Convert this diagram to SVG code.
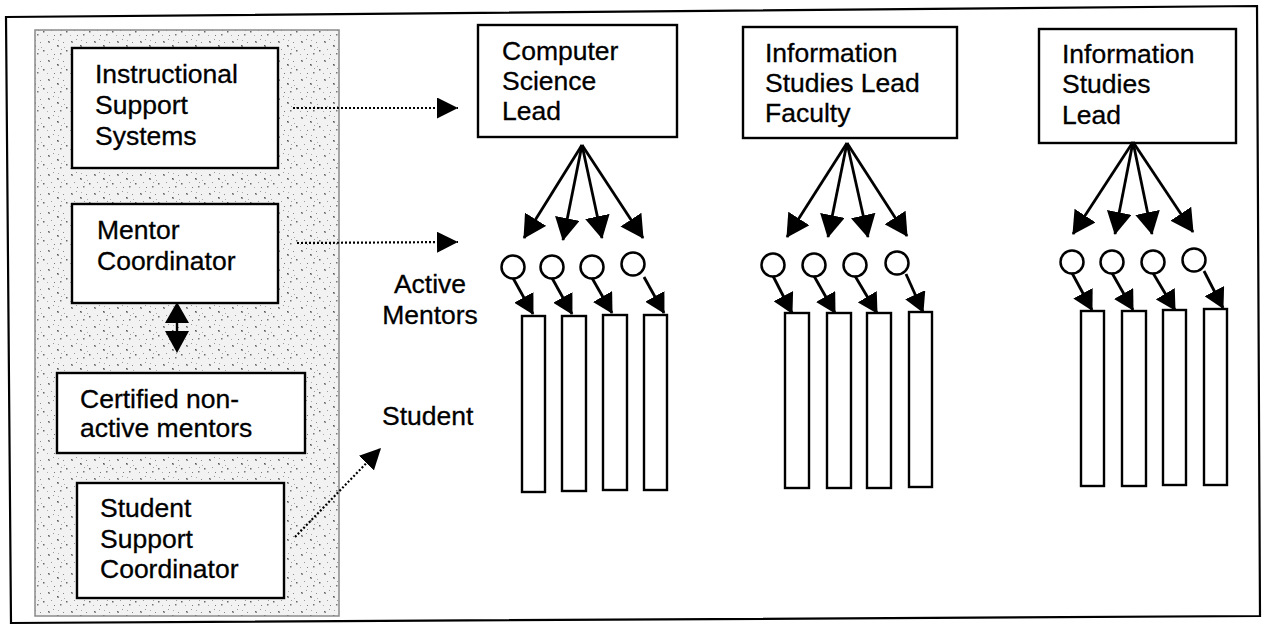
<svg xmlns="http://www.w3.org/2000/svg" width="1266" height="625" viewBox="0 0 1266 625">
<style>
.box{fill:#fff;stroke:#000;stroke-width:2.4}
.bar{fill:#fff;stroke:#000;stroke-width:2.4}
.t{font-family:"Liberation Sans",Arial,sans-serif;font-size:26.5px;fill:#000;stroke:#000;stroke-width:0.3}
.fan{stroke:#000;stroke-width:2.8;fill:none;marker-end:url(#ah)}
.sm{stroke:#000;stroke-width:2.8;fill:none;marker-end:url(#ahs)}
.dot{stroke:#000;stroke-width:2.2;stroke-dasharray:2 2;fill:none;marker-end:url(#ahd)}
.mentor{fill:#fff;stroke:#000;stroke-width:2.5}
</style>
<defs>
<marker id="ah" markerUnits="userSpaceOnUse" markerWidth="24" markerHeight="25" refX="22" refY="12.5" orient="auto" viewBox="0 0 24 25">
<path d="M0,0 L23,12.5 L0,25 z" fill="#000"/>
</marker>
<marker id="ahs" markerUnits="userSpaceOnUse" markerWidth="21" markerHeight="22" refX="19" refY="11" orient="auto" viewBox="0 0 21 22">
<path d="M0,0 L20,11 L0,22 z" fill="#000"/>
</marker>
<marker id="ahd" markerUnits="userSpaceOnUse" markerWidth="22" markerHeight="21" refX="21" refY="10.5" orient="auto" viewBox="0 0 22 21">
<path d="M0,0 L21,10.5 L0,21 z" fill="#000"/>
</marker>
<pattern id="stip" width="23" height="19" patternUnits="userSpaceOnUse">
<rect width="23" height="19" fill="#f2f2f2"/>
<rect x="2" y="3" width="1.5" height="1.5" fill="#666"/>
<rect x="3" y="4" width="1" height="1" fill="#888"/>
<rect x="7" y="1" width="1" height="1" fill="#999"/>
<rect x="11" y="7" width="1.5" height="1.5" fill="#555"/>
<rect x="12" y="8" width="1" height="1" fill="#888"/>
<rect x="17" y="4" width="1" height="1" fill="#888"/>
<rect x="20" y="12" width="1.5" height="1.5" fill="#666"/>
<rect x="5" y="11" width="1" height="1" fill="#999"/>
<rect x="14" y="15" width="1.5" height="1.5" fill="#777"/>
<rect x="8" y="16" width="1" height="1" fill="#777"/>
<rect x="1" y="16" width="1" height="1" fill="#aaa"/>
<rect x="18" y="9" width="1" height="1" fill="#aaa"/>
<rect x="12" y="2" width="1" height="1" fill="#aaa"/>
<rect x="15" y="11" width="1" height="1" fill="#999"/>
</pattern>
</defs>

<g id="frame">
<polygon points="6,17 1257,6 1260,616 11,623" fill="#fff" stroke="#000" stroke-width="2.2"/>
</g>

<g id="panel">
<rect x="35" y="30" width="304" height="586" fill="url(#stip)" stroke="#8a8a8a" stroke-width="1.5"/>
</g>

<g id="instructional-support">
<rect class="box" x="72" y="48" width="206" height="120"/>
<text class="t" x="95" y="83">Instructional</text>
<text class="t" x="95" y="114">Support</text>
<text class="t" x="95" y="145">Systems</text>
</g>

<g id="mentor-coordinator">
<rect class="box" x="72" y="204" width="206" height="99"/>
<text class="t" x="97" y="239">Mentor</text>
<text class="t" x="97" y="270">Coordinator</text>
</g>

<g id="certified-nonactive">
<rect class="box" x="57" y="373" width="248" height="80"/>
<text class="t" x="80" y="408">Certified non-</text>
<text class="t" x="80" y="437">active mentors</text>
</g>

<g id="student-support">
<rect class="box" x="77" y="483" width="207" height="115"/>
<text class="t" x="100" y="517">Student</text>
<text class="t" x="100" y="548">Support</text>
<text class="t" x="100" y="578">Coordinator</text>
</g>

<g id="cs-lead">
<rect class="box" x="478" y="25" width="199" height="112"/>
<text class="t" x="502" y="60">Computer</text>
<text class="t" x="502" y="90">Science</text>
<text class="t" x="502" y="120">Lead</text>
</g>

<g id="is-lead-faculty">
<rect class="box" x="743" y="27" width="214" height="111"/>
<text class="t" x="765" y="62">Information</text>
<text class="t" x="765" y="92">Studies Lead</text>
<text class="t" x="765" y="122">Faculty</text>
</g>

<g id="is-lead">
<rect class="box" x="1039" y="29" width="197" height="114"/>
<text class="t" x="1062" y="63">Information</text>
<text class="t" x="1062" y="93">Studies</text>
<text class="t" x="1062" y="124">Lead</text>
</g>

<g id="labels">
<text class="t" x="430" y="293" text-anchor="middle">Active</text>
<text class="t" x="430" y="324" text-anchor="middle">Mentors</text>
<text class="t" x="382" y="425">Student</text>
</g>

<g id="mentors-cs">
<circle class="mentor" cx="513" cy="267" r="11.5"/>
<circle class="mentor" cx="552" cy="267" r="11.5"/>
<circle class="mentor" cx="592" cy="267" r="11.5"/>
<circle class="mentor" cx="633" cy="264" r="11.5"/>
</g>
<g id="students-cs">
<rect class="bar" x="522" y="316" width="23" height="176"/>
<rect class="bar" x="562" y="316" width="24" height="175"/>
<rect class="bar" x="603" y="315" width="24" height="175"/>
<rect class="bar" x="644" y="315" width="23" height="175"/>
</g>

<g id="mentors-isf">
<circle class="mentor" cx="773" cy="265" r="11.5"/>
<circle class="mentor" cx="814" cy="265" r="11.5"/>
<circle class="mentor" cx="855" cy="265" r="11.5"/>
<circle class="mentor" cx="897" cy="263" r="11.5"/>
</g>
<g id="students-isf">
<rect class="bar" x="785" y="313" width="24" height="175"/>
<rect class="bar" x="827" y="313" width="24" height="175"/>
<rect class="bar" x="867" y="313" width="24" height="175"/>
<rect class="bar" x="909" y="312" width="23" height="175"/>
</g>

<g id="mentors-is">
<circle class="mentor" cx="1072" cy="262" r="11.5"/>
<circle class="mentor" cx="1112" cy="262" r="11.5"/>
<circle class="mentor" cx="1153" cy="262" r="11.5"/>
<circle class="mentor" cx="1194" cy="260" r="11.5"/>
</g>
<g id="students-is">
<rect class="bar" x="1081" y="311" width="23" height="175"/>
<rect class="bar" x="1122" y="311" width="24" height="175"/>
<rect class="bar" x="1163" y="310" width="23" height="175"/>
<rect class="bar" x="1204" y="309" width="23" height="176"/>
</g>

<g id="connectors">
<path class="dot" d="M293,108 L458,108"/>
<path class="dot" d="M297,243 L458,242"/>
<path class="dot" d="M295,537 L381,448"/>

<polygon points="177,302 165,323 189,323" fill="#000"/>
<line x1="177" y1="321" x2="177" y2="333" stroke="#000" stroke-width="2.4"/>
<polygon points="165,331 189,331 177,353" fill="#000"/>

<path class="fan" d="M582,145 L524,238"/>
<path class="fan" d="M582,145 L563,240"/>
<path class="fan" d="M582,145 L602,238"/>
<path class="fan" d="M582,145 L643,238"/>

<path class="fan" d="M847,143 L787,237"/>
<path class="fan" d="M847,143 L828,237"/>
<path class="fan" d="M847,143 L868,237"/>
<path class="fan" d="M847,143 L907,236"/>

<path class="fan" d="M1133,142 L1073,234"/>
<path class="fan" d="M1133,142 L1115,234"/>
<path class="fan" d="M1133,142 L1152,234"/>
<path class="fan" d="M1133,142 L1193,232"/>

<path class="sm" d="M513,278 L533,314"/>
<path class="sm" d="M552,278 L572,314"/>
<path class="sm" d="M592,278 L612,313"/>
<path class="sm" d="M644,277 L664,313"/>

<path class="sm" d="M773,276 L792,313"/>
<path class="sm" d="M814,276 L835,313"/>
<path class="sm" d="M855,276 L877,313"/>
<path class="sm" d="M906,274 L923,312"/>

<path class="sm" d="M1072,273 L1092,310"/>
<path class="sm" d="M1112,273 L1133,310"/>
<path class="sm" d="M1153,273 L1175,310"/>
<path class="sm" d="M1204,271 L1223,308"/>
</g>
</svg>
